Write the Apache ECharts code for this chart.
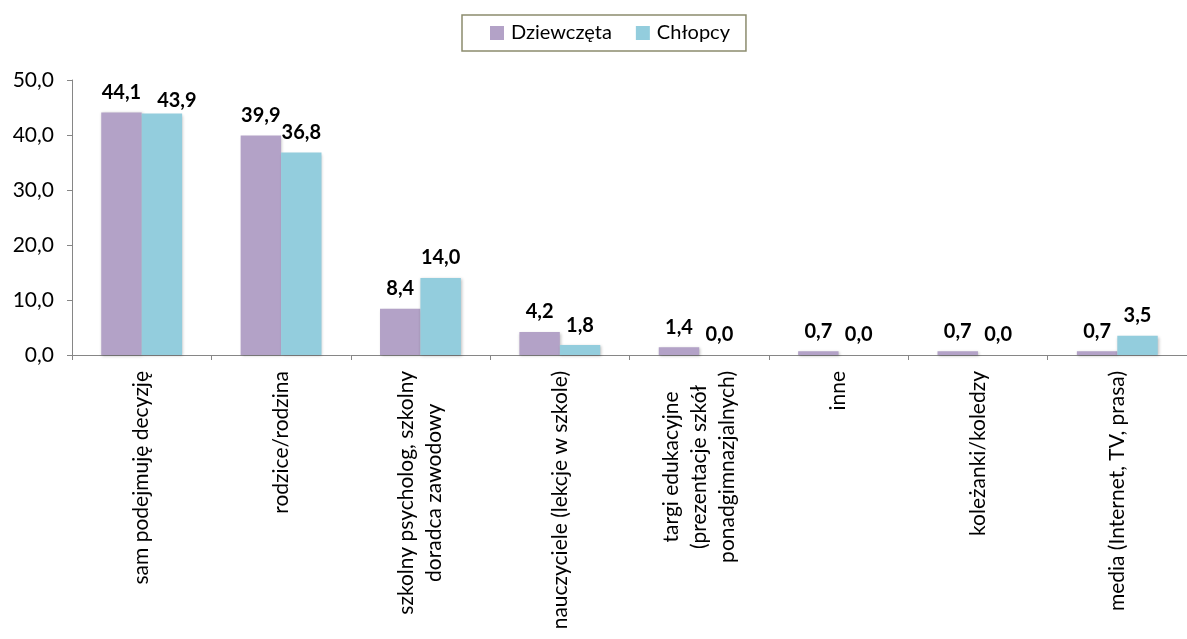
<!DOCTYPE html>
<html><head><meta charset="utf-8">
<script src="https://cdn.jsdelivr.net/npm/echarts@6/dist/echarts.min.js"></script>
<style>html,body{margin:0;padding:0;background:#fff}#c{width:1187px;height:639px}</style>
</head><body><div id="c"></div>
<script>
const categories = [
  'sam podejmuję decyzję',
  'rodzice/rodzina',
  'szkolny psycholog, szkolny\ndoradca zawodowy',
  'nauczyciele (lekcje w szkole)',
  'targi edukacyjne\n(prezentacje szkół\nponadgimnazjalnych)',
  'inne',
  'koleżanki/koledzy',
  'media (Internet, TV, prasa)'
];
const seriesNames = ['Dziewczęta', 'Chłopcy'];
const dziewczeta = [44.1, 39.9, 8.4, 4.2, 1.4, 0.7, 0.7, 0.7];
const chlopcy = [43.9, 36.8, 14.0, 1.8, 0.0, 0.0, 0.0, 3.5];
const colors = ['#B3A2C7', '#93CDDD'];
const FONT = 'Lato, "Open Sans", sans-serif';

const fmt = v => v.toFixed(1).replace('.', ',');

function makeSeries(name, vals, color, idx) {
  return {
    name: name,
    type: 'bar',
    barGap: '0%',
    barCategoryGap: '42%',
    itemStyle: { color: color, shadowColor: 'rgba(0,0,0,0.25)', shadowBlur: 3, shadowOffsetX: 1, shadowOffsetY: 1 },
    label: {
      show: true, position: 'top', distance: 10,
      fontFamily: FONT, fontSize: 20, fontWeight: 'bold', color: '#000',
      formatter: p => fmt(p.value)
    },
    data: vals.map((v, i) => {
      // second series, first category: label nudged to avoid overlap (as in reference)
      if (idx === 1 && i === 0) return { value: v, label: { distance: 3, offset: [15, 0] } };
      return v;
    })
  };
}

const chart = echarts.init(document.getElementById('c'));
chart.setOption({
  animation: false,
  backgroundColor: '#fff',
  legend: {
    data: seriesNames,
    left: 462, top: 15,
    itemWidth: 14, itemHeight: 14, itemGap: 24,
    padding: [8, 16, 8, 28],
    borderColor: '#8C8C6E', borderWidth: 1.5,
    icon: 'rect',
    textStyle: { fontFamily: FONT, fontSize: 20, color: '#000', padding: [0, 0, 0, 2] }
  },
  grid: { left: 72, top: 80, width: 1122, height: 275, containLabel: false },
  xAxis: {
    type: 'category',
    data: categories,
    axisLine: { lineStyle: { color: '#868686', width: 1 } },
    axisTick: { show: true, alignWithLabel: false, length: 5, lineStyle: { color: '#868686' } },
    axisLabel: {
      interval: 0, rotate: 90, margin: 16,
      fontFamily: FONT, fontSize: 21, color: '#000', lineHeight: 28,
      formatter: v => v.split('\n').map(l => '{c|' + l + '}').join('\n'),
      rich: { c: { align: 'center', fontFamily: FONT, fontSize: 21, color: '#000', lineHeight: 28 } }
    }
  },
  yAxis: {
    type: 'value', min: 0, max: 50, interval: 10,
    splitLine: { show: false },
    axisLine: { show: true, lineStyle: { color: '#868686', width: 1 } },
    axisTick: { show: true, length: 5, lineStyle: { color: '#868686' } },
    axisLabel: { fontFamily: FONT, fontSize: 21, color: '#000', margin: 18, formatter: v => fmt(v) }
  },
  series: [
    makeSeries(seriesNames[0], dziewczeta, colors[0], 0),
    makeSeries(seriesNames[1], chlopcy, colors[1], 1)
  ]
});
</script></body></html>
